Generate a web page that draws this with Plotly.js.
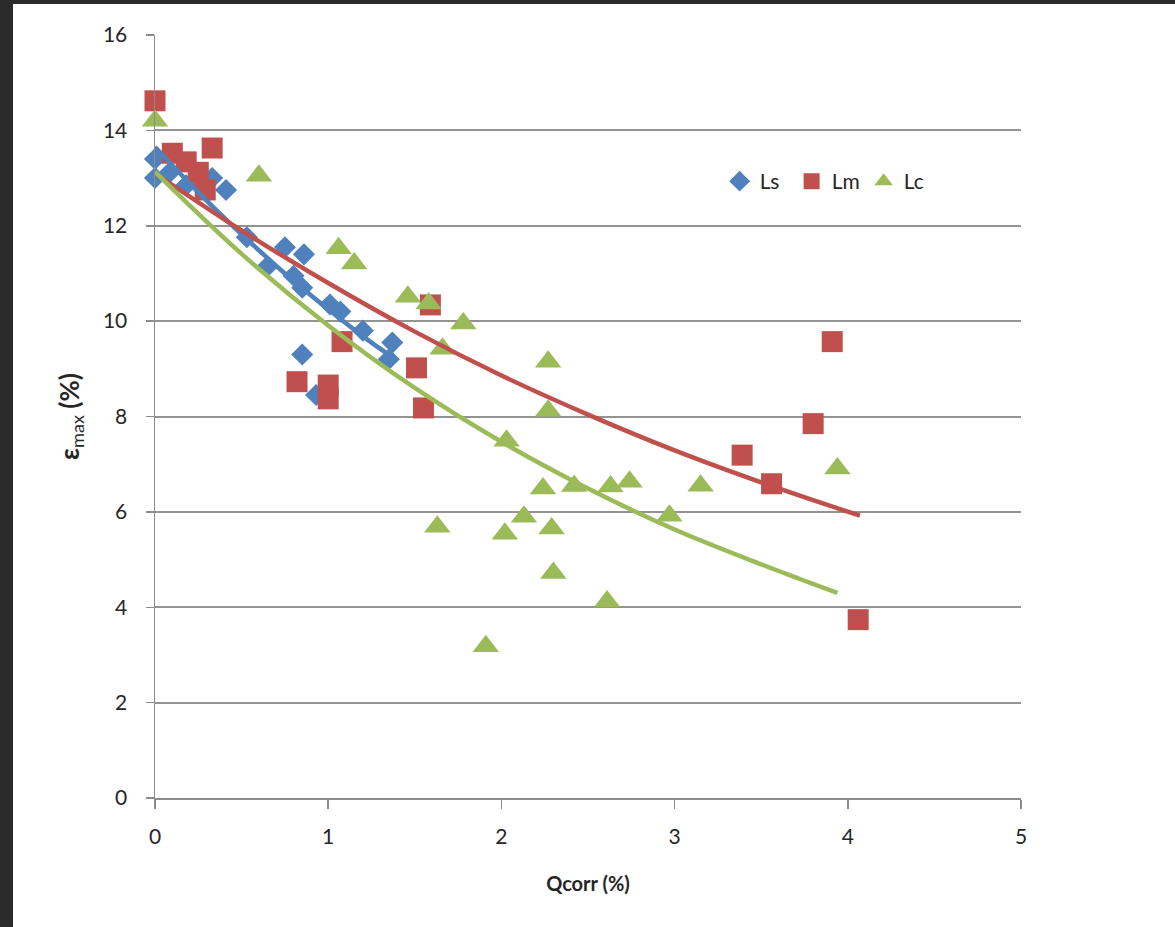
<!DOCTYPE html>
<html>
<head>
<meta charset="utf-8">
<script src="https://cdn.plot.ly/plotly-3.0.1.min.js"></script>
<style>
  html, body { margin: 0; padding: 0; background: #2a2a2a; width: 1175px; height: 927px; overflow: hidden; }
  #chart { position: absolute; left: 13px; top: 4px; width: 1162px; height: 923px; background: #ffffff; }
</style>
</head>
<body>
<div id="chart"></div>
<script>
// ---- Data ----
var lsX = [0.00, 0.00, 0.08, 0.18, 0.33, 0.41, 0.53, 0.75, 0.86, 0.65, 0.80, 0.85, 1.01, 1.07, 1.20, 1.37, 1.35, 0.85, 0.93];
var lsY = [13.40, 13.00, 13.10, 12.85, 13.00, 12.75, 11.76, 11.55, 11.40, 11.15, 10.95, 10.70, 10.35, 10.20, 9.80, 9.55, 9.20, 9.30, 8.45];

var lmX = [0.00, -0.03, 0.10, 0.18, 0.25, 0.33, 0.29, 0.82, 1.00, 1.00, 1.08, 1.59, 1.51, 1.55, 3.39, 3.56, 3.80, 3.91, 4.06];
var lmY = [14.62, 14.20, 13.52, 13.34, 13.12, 13.63, 12.75, 8.73, 8.66, 8.37, 9.57, 10.34, 9.02, 8.18, 7.19, 6.59, 7.85, 9.57, 3.74];

var lcX = [0.00, 0.60, 1.06, 1.15, 1.46, 1.58, 1.78, 1.66, 2.27, 2.27, 2.03, 2.42, 2.24, 2.63, 2.74, 3.15, 2.97, 1.63, 2.13, 2.02, 2.29, 2.30, 2.61, 1.91, 3.94];
var lcY = [14.20, 13.05, 11.53, 11.21, 10.51, 10.37, 9.95, 9.42, 9.15, 8.12, 7.49, 6.54, 6.49, 6.53, 6.63, 6.55, 5.92, 5.69, 5.90, 5.54, 5.65, 4.72, 4.12, 3.18, 6.91];

// trend curves
var lsTrendX = [0.00, 0.25, 0.50, 0.75, 1.00, 1.25, 1.37];
var lsTrendY = [13.65, 12.70, 11.82, 11.00, 10.25, 9.55, 9.25];
var lmTrendX = [0.00, 0.50, 1.00, 1.50, 2.00, 2.50, 3.00, 3.50, 4.07];
var lmTrendY = [13.10, 11.90, 10.80, 9.78, 8.86, 8.04, 7.29, 6.62, 5.92];
var lcTrendX = [0.00, 0.50, 1.00, 1.50, 2.00, 2.50, 3.00, 3.50, 3.94];
var lcTrendY = [13.13, 11.41, 9.91, 8.60, 7.47, 6.49, 5.63, 4.90, 4.30];

var xTicks = [0, 1, 2, 3, 4, 5];
var yTicks = [0, 2, 4, 6, 8, 10, 12, 14, 16];

var cBlue = '#4F81BD', cRed = '#C0504D', cGreen = '#9BBB59';
var fontFam = 'Lato, "Open Sans", sans-serif';
var textCol = '#262626';

function trend(x, y, color) {
  return { x: x, y: y, mode: 'lines', type: 'scatter', showlegend: false, hoverinfo: 'skip',
           line: { color: color, width: 4.5, shape: 'spline' }, cliponaxis: false };
}
var traces = [
  { x: lsX, y: lsY, name: 'Ls', mode: 'markers', type: 'scatter', cliponaxis: false,
    marker: { symbol: 'diamond', size: 17, color: cBlue } },
  { x: lmX, y: lmY, name: 'Lm', mode: 'markers', type: 'scatter', cliponaxis: false,
    marker: { symbol: 'square', size: 21, color: cRed } },
  { x: lcX, y: lcY, name: 'Lc', mode: 'markers', type: 'scatter', cliponaxis: false,
    marker: { symbol: 'triangle-up', size: 23, color: cGreen } },
  trend(lsTrendX, lsTrendY, cBlue),
  trend(lmTrendX, lmTrendY, cRed),
  trend(lcTrendX, lcTrendY, cGreen)
];

var layout = {
  width: 1162, height: 923,
  margin: { l: 142, r: 154, t: 31, b: 129 },
  paper_bgcolor: '#ffffff', plot_bgcolor: '#ffffff',
  font: { family: fontFam, size: 21, color: textCol },
  showlegend: true,
  legend: { orientation: 'h', x: 0.652, y: 0.808, xanchor: 'left', yanchor: 'middle',
            font: { family: fontFam, size: 21, color: textCol }, bgcolor: 'rgba(0,0,0,0)',
            itemwidth: 30, entrywidth: 27, traceorder: 'normal' },
  xaxis: {
    range: [0, 5], tickvals: xTicks, ticktext: xTicks.map(String),
    showgrid: false, zeroline: false, showline: true, linecolor: '#8c8c8c', linewidth: 1.5,
    ticks: 'outside', ticklen: 9, tickwidth: 1.5, tickcolor: '#8c8c8c', ticklabelstandoff: 10,
    tickfont: { family: fontFam, size: 21, color: textCol },
    title: { text: '<b>Qcorr (%)</b>', font: { family: fontFam, size: 20, color: textCol }, standoff: 30 }
  },
  yaxis: {
    range: [0, 16], tickvals: yTicks, ticktext: yTicks.map(String),
    showgrid: true, gridcolor: '#939393', gridwidth: 2, zeroline: false,
    showline: true, linecolor: '#8c8c8c', linewidth: 1.5,
    ticks: 'outside', ticklen: 8, tickwidth: 1.5, tickcolor: '#8c8c8c', ticklabelstandoff: 14,
    tickfont: { family: fontFam, size: 21, color: textCol },
    title: { text: '<b>ε</b><sub>max</sub><b> (%)</b>',
             font: { family: fontFam, size: 26, color: textCol }, standoff: 16 }
  }
};

Plotly.newPlot('chart', traces, layout, { displayModeBar: false, staticPlot: true });
</script>
</body>
</html>
